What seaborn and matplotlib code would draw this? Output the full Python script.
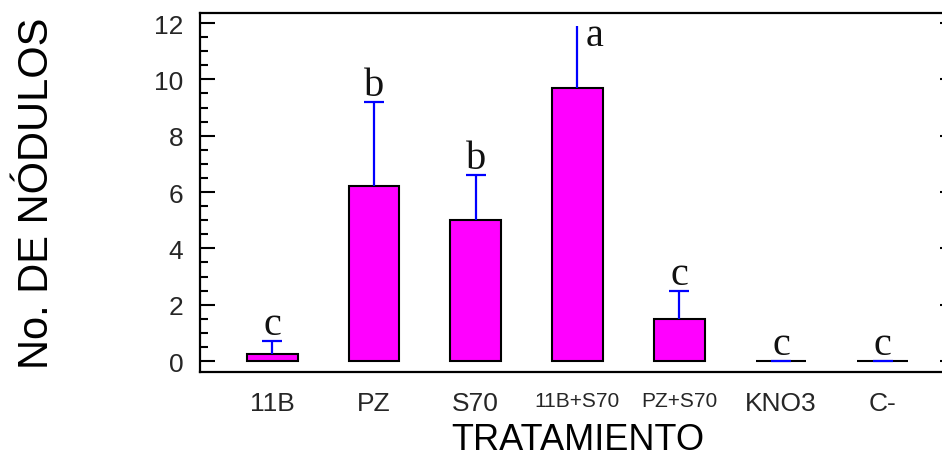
import numpy as np
import pandas as pd
import seaborn as sns
from matplotlib import pyplot as plt

# data
tratamientos = ['11B', 'PZ', 'S70', '11B+S70', 'PZ+S70', 'KNO3', 'C-']
nodulos = [0.25, 6.2, 5.0, 9.7, 1.5, 0.0, 0.0]
error = [0.45, 3.0, 1.6, 2.2, 1.0, 0.0, 0.0]
letras = ['c', 'b', 'b', 'a', 'c', 'c', 'c']
small_labels = ['11B+S70', 'PZ+S70']

data = pd.DataFrame({'tratamiento': tratamientos, 'nodulos': nodulos})

sns.set_style('white')
plt.rcParams['font.family'] = ['Liberation Sans', 'DejaVu Sans']

fig = plt.figure(figsize=(9.42, 4.64), dpi=100)
ax = fig.add_axes([0.2123, 0.1961, 0.8015, 0.7737])

sns.barplot(data=data, x='tratamiento', y='nodulos', color='#FF00FF', saturation=1,
            edgecolor='black', linewidth=1.5, width=0.5, errorbar=None, ax=ax)

xs = np.arange(len(tratamientos))
means = np.array(nodulos)
tops = means + np.array(error)

# error bars: only upward, blue
ax.vlines(xs, means, tops, colors='blue', linewidth=1.6, zorder=3)
caps = np.array(letras) != 'a'
ax.plot(xs[caps], tops[caps], ls='none', marker='_', markersize=14.5,
        markeredgewidth=1.6, color='blue', zorder=4)

# significance letters
for x, t, l in zip(xs, tops, letras):
    if l == 'a':
        ax.annotate(l, (x, t), xytext=(6, -14), textcoords='offset points',
                    ha='left', va='baseline', fontsize=29,
                    family='Liberation Serif', color='#111111')
    else:
        ax.annotate(l, (x, t), xytext=(0, 5), textcoords='offset points',
                    ha='center', va='baseline', fontsize=29,
                    family='Liberation Serif', color='#111111')

ax.set_xlim(-0.71, 6.71)
ax.set_ylim(-0.39, 12.355)
ax.set_yticks([0, 2, 4, 6, 8, 10, 12])
ax.set_yticks(np.arange(0, 12.01, 0.5), minor=True)

for s in ax.spines.values():
    s.set_color('black')
    s.set_linewidth(1.6)

ax.tick_params(axis='y', which='major', direction='in', length=10.5, width=1.5,
               left=True, right=True, labelsize=19, pad=12, color='black')
ax.tick_params(axis='y', which='minor', direction='in', length=5.5, width=1.5,
               left=True, right=True, color='black')
ax.tick_params(axis='x', bottom=False, labelsize=19, pad=10)

for lab in ax.get_xticklabels():
    if lab.get_text() in small_labels:
        lab.set_fontsize(15)

ax.set_xlabel('TRATAMIENTO', fontsize=26, color='black')
ax.set_ylabel('No. DE NÓDULOS', fontsize=30, color='black')
ax.xaxis.set_label_coords(0.5, -0.14)
ax.yaxis.set_label_coords(-0.19, 0.5)

plt.savefig('out.png', dpi=100)
